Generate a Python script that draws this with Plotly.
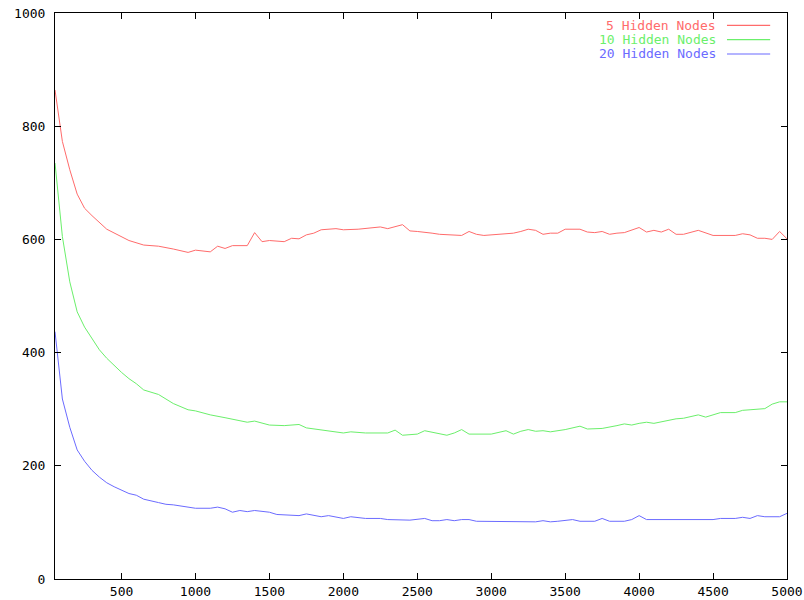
import plotly.graph_objects as go

# ---- data ----
names = ["5 Hidden Nodes", "10 Hidden Nodes", "20 Hidden Nodes"]
colors = ["#ff6b6b", "#6bef6b", "#6b6bff"]

x5 = [50, 100, 150, 200, 250, 300, 400, 500, 550, 650, 750, 850, 950, 1000, 1100,
      1150, 1200, 1250, 1350, 1400, 1450, 1500, 1600, 1650, 1700, 1750, 1800, 1850,
      1950, 2000, 2100, 2250, 2300, 2400, 2450, 2500, 2550, 2600, 2650, 2750, 2800,
      2850, 2900, 2950, 3000, 3050, 3150, 3200, 3250, 3300, 3350, 3400, 3450, 3500,
      3600, 3650, 3700, 3750, 3800, 3850, 3900, 4000, 4050, 4100, 4150, 4200, 4250,
      4300, 4400, 4500, 4650, 4700, 4750, 4800, 4850, 4900, 4950, 5000]
y5 = [864, 773, 723, 680, 655, 642, 618, 604, 598, 590, 588, 583, 577, 581, 578,
      588, 584, 589, 589, 612, 596, 598, 596, 602, 601, 608, 611, 617,
      619, 617, 618, 622, 619, 626, 615, 614, 613, 611, 609, 608, 607,
      614, 609, 607, 608, 609, 611, 614, 618, 616, 609, 611, 611, 618,
      618, 613, 612, 614, 609, 611, 612, 621, 613, 616, 613, 618, 609,
      609, 616, 607, 607, 610, 608, 602, 602, 600, 614, 601]

x10 = [50, 100, 150, 200, 250, 300, 350, 400, 450, 500, 550, 600, 650, 750, 850,
       950, 1000, 1100, 1200, 1300, 1350, 1400, 1500, 1600, 1700, 1750, 1900, 2000,
       2050, 2150, 2300, 2350, 2400, 2500, 2550, 2600, 2650, 2700, 2750, 2800, 2850,
       3000, 3100, 3150, 3200, 3250, 3300, 3350, 3400, 3450, 3500, 3600, 3650, 3750,
       3800, 3850, 3900, 3950, 4000, 4050, 4100, 4200, 4250, 4300, 4400, 4450, 4550,
       4650, 4700, 4750, 4850, 4900, 4950, 5000]
y10 = [735, 605, 525, 472, 445, 425, 405, 390, 377, 365, 354, 345, 334, 326, 310,
       299, 297, 290, 285, 279, 277, 279, 272, 271, 273, 267, 262, 258,
       260, 258, 258, 263, 254, 256, 262, 259, 257, 254, 258, 264, 256,
       256, 262, 256, 261, 264, 261, 262, 260, 262, 264, 270, 265, 266,
       268, 271, 274, 272, 275, 277, 275, 280, 283, 284, 290, 286, 294,
       294, 298, 299, 301, 309, 313, 313]

x20 = [50, 100, 150, 200, 250, 300, 350, 400, 450, 550, 600, 650, 750, 800, 850,
       950, 1000, 1100, 1150, 1200, 1250, 1300, 1350, 1400, 1500, 1550, 1700, 1750,
       1800, 1850, 1900, 1950, 2000, 2050, 2150, 2250, 2300, 2450, 2500, 2550, 2600,
       2650, 2700, 2750, 2800, 2850, 2900, 3200, 3250, 3300, 3350, 3400, 3450, 3550,
       3600, 3700, 3750, 3800, 3900, 3950, 4000, 4050, 4500, 4550, 4650, 4700, 4750,
       4800, 4850, 4950, 5000]
y20 = [437, 318, 268, 228, 208, 192, 180, 170, 163, 151, 148, 141, 135, 132, 131,
       127, 125, 125, 127, 124, 118, 121, 119, 121, 118, 114, 112, 115,
       113, 110, 112, 110, 107, 110, 107, 107, 105, 104, 106, 107, 103,
       103, 105, 103, 105, 105, 102, 102, 101, 101, 103, 101, 102, 105,
       102, 102, 107, 102, 102, 105, 112, 105, 105, 107, 107, 109, 107,
       112, 110, 110, 116]

xs = [x5, x10, x20]
ys = [y5, y10, y20]

x_ticks = [500, 1000, 1500, 2000, 2500, 3000, 3500, 4000, 4500, 5000]
y_ticks = [0, 200, 400, 600, 800, 1000]

FONT = "DejaVu Sans Mono"

fig = go.Figure()
for n, c, x, y in zip(names, colors, xs, ys):
    fig.add_trace(go.Scatter(x=x, y=y, mode="lines", name=n,
                             line=dict(color=c, width=1), showlegend=False))

# gnuplot-style key: text right-aligned, sample line to the right
rows_y = [0.978, 0.9528, 0.9276]
for n, c, ry in zip(names, colors, rows_y):
    fig.add_annotation(xref="paper", yref="paper", x=0.905, y=ry, text=n,
                       showarrow=False, xanchor="right", yanchor="middle",
                       borderpad=0,
                       font=dict(family=FONT, size=13, color=c))
    fig.add_shape(type="line", xref="paper", yref="paper", x0=0.918, x1=0.977,
                  y0=ry, y1=ry, line=dict(color=c, width=1.2))

axis_common = dict(showgrid=False, zeroline=False, showline=True, linecolor="black",
                   linewidth=1, mirror="ticks", ticks="inside", ticklen=6,
                   tickcolor="black", tickwidth=1,
                   tickfont=dict(family=FONT, size=13, color="black"))

fig.update_xaxes(range=[50, 5000], tickvals=x_ticks,
                 ticktext=[str(v) for v in x_ticks], **axis_common)
fig.update_yaxes(range=[0, 1000], tickvals=y_ticks,
                 ticktext=[str(v) for v in y_ticks], ticklabelstandoff=6, **axis_common)

fig.update_layout(width=804, height=600, plot_bgcolor="white", paper_bgcolor="white",
                  margin=dict(l=55, r=17, t=13, b=21, autoexpand=False),
                  font=dict(family=FONT, size=13))

fig.write_html("out.html", config={"displayModeBar": False},
               post_script="document.body.style.margin='0';")
